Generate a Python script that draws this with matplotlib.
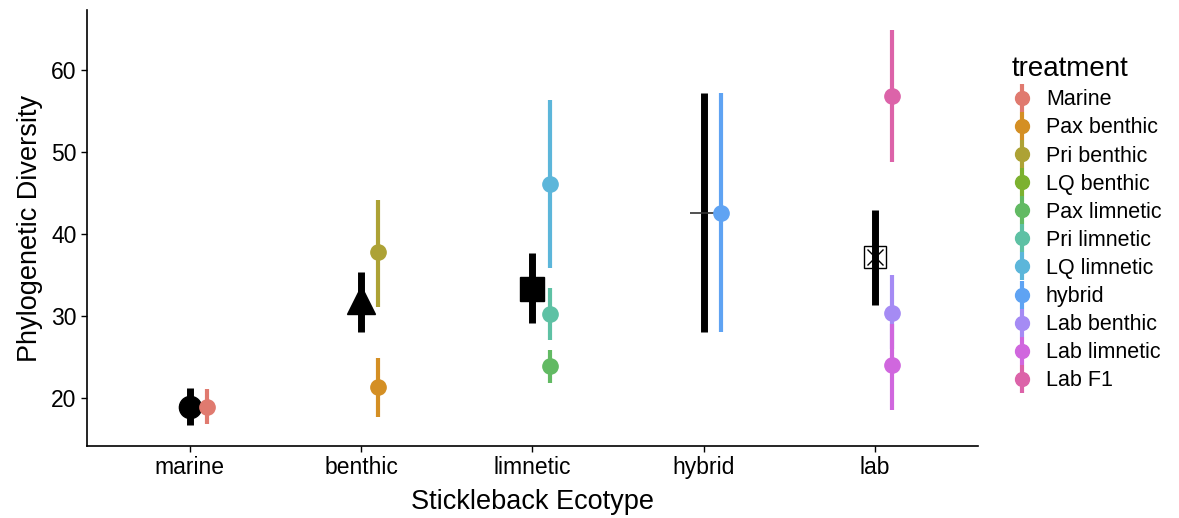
import numpy as np
import matplotlib
matplotlib.use("Agg")
import matplotlib.pyplot as plt
from matplotlib.lines import Line2D
from matplotlib.legend_handler import HandlerTuple

plt.rcParams['font.family'] = ['Liberation Sans', 'DejaVu Sans']

# ecotype summary (black)
ecotypes = ['marine', 'benthic', 'limnetic', 'hybrid', 'lab']
eco_mean = [18.9, 32.0, 33.3, 42.6, 37.2]
eco_lo = [16.7, 28.0, 29.1, 28.0, 31.3]
eco_hi = [21.2, 35.4, 37.7, 57.2, 42.9]

# treatment summary (coloured)
treatments = ['Marine', 'Pax benthic', 'Pri benthic', 'LQ benthic', 'Pax limnetic',
              'Pri limnetic', 'LQ limnetic', 'hybrid', 'Lab benthic', 'Lab limnetic', 'Lab F1']
treat_eco = [0, 1, 1, 1, 2, 2, 2, 3, 4, 4, 4]
treat_mean = [18.9, 21.3, 37.8, np.nan, 23.9, 30.2, 46.1, 42.6, 30.4, 24.0, 56.8]
treat_lo = [16.8, 17.7, 31.1, np.nan, 21.8, 27.1, 35.9, 28.0, 26.0, 18.5, 48.8]
treat_hi = [21.1, 24.9, 44.1, np.nan, 25.9, 33.4, 56.3, 57.2, 35.0, 29.0, 64.9]

colors = ['#E07A6F', '#D48F24', '#ADA235', '#7CB12F', '#62BA63', '#5EC1A4',
          '#5CB6DA', '#5FA3F3', '#A58BF4', '#D067DE', '#DC63A9']

fig = plt.figure(figsize=(11.79, 5.18), dpi=100)
ax = fig.add_axes([0.0738, 0.139, 0.7557, 0.8417])

# black ecotype bars + markers
x_eco = np.arange(1, len(ecotypes) + 1)
ax.vlines(x_eco, eco_lo, eco_hi, color='black', lw=5, zorder=2)
ax.plot(x_eco[0], eco_mean[0], 'o', color='black', ms=16, zorder=3)
ax.plot(x_eco[1], eco_mean[1], '^', color='black', ms=20, zorder=3)
ax.plot(x_eco[2], eco_mean[2], 's', color='black', ms=17, zorder=3)
ax.plot(x_eco[3], eco_mean[3], '_', color='#333333', ms=20, mew=1.2, zorder=3)
ax.plot(x_eco[4], eco_mean[4], 's', mfc='none', mec='black', ms=16, mew=1, zorder=3)
ax.plot(x_eco[4], eco_mean[4], 'x', color='black', ms=11, mew=1, zorder=3)

# coloured treatment bars
x_tr = np.array(treat_eco) + 1 + 0.1
for i in range(len(treatments)):
    if np.isnan(treat_mean[i]):
        continue
    ax.vlines(x_tr[i], treat_lo[i], treat_hi[i], color=colors[i], lw=3, zorder=4)
    ax.plot(x_tr[i], treat_mean[i], 'o', color=colors[i], ms=11, zorder=5)

ax.set_xlim(0.4, 5.6)
ax.set_ylim(14.15, 67.3)
ax.set_xticks(x_eco)
ax.set_xticklabels(ecotypes)
ax.set_yticks([20, 30, 40, 50, 60])
ax.tick_params(labelsize=16.5, length=4, width=1, colors='black')
for s in ['top', 'right']:
    ax.spines[s].set_visible(False)
for s in ['left', 'bottom']:
    ax.spines[s].set_linewidth(1.2)
ax.set_xlabel('Stickleback Ecotype', fontsize=19.5, labelpad=7)
ax.set_ylabel('Phylogenetic Diversity', fontsize=19.5, labelpad=6)

handles = []
for c in colors:
    handles.append((Line2D([], [], color=c, marker='|', ms=20, mew=3, ls='none'),
                    Line2D([], [], color=c, marker='o', ms=10, ls='none')))
leg = fig.legend(handles, treatments, handler_map={tuple: HandlerTuple(ndivide=1)},
                 loc='upper left', bbox_to_anchor=(0.8505, 0.908), frameon=False,
                 fontsize=15.5, title='treatment', title_fontsize=20, alignment='left',
                 handlelength=1.0, handletextpad=0.6, labelspacing=0.33,
                 borderaxespad=0)

fig.savefig('out.png', dpi=100)
